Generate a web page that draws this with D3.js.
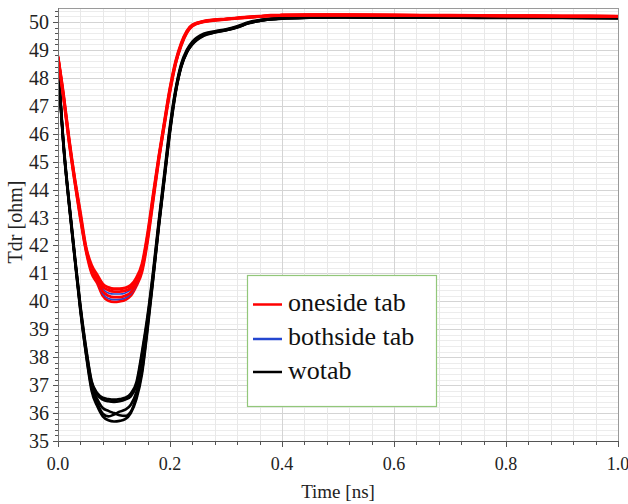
<!DOCTYPE html>
<html><head><meta charset="utf-8">
<script src="https://cdn.jsdelivr.net/npm/d3@7"></script>
<style>body{margin:0;background:#fff}svg{display:block}</style>
</head><body><svg id="c" width="628" height="504"></svg>
<script>
const timeNs = [0,0.01,0.02,0.03,0.04,0.05,0.06,0.07,0.08,0.09,0.10,0.11,0.12,0.13,0.14,0.15,0.16,0.17,0.18,0.19,0.20,0.21,0.22,0.23,0.24,0.26,0.28,0.30,0.32,0.34,0.36,0.38,0.40,0.45,0.50,0.60,0.70,0.80,0.90,1.00];

const onesideTab1 = [48.78,47.4,45.8,44.4,43.2,41.95,41.3,40.95,40.62,40.5,40.45,40.45,40.48,40.58,40.85,41.35,42.45,43.85,45.2,46.45,47.65,48.6,49.25,49.68,49.9,50.03,50.08,50.11,50.15,50.18,50.21,50.24,50.25,50.26,50.26,50.25,50.24,50.23,50.22,50.21];
const onesideTab2 = [48.75,47.35,45.75,44.35,43.1,41.9,41.2,40.85,40.52,40.4,40.35,40.35,40.38,40.48,40.75,41.25,42.35,43.75,45.15,46.4,47.6,48.55,49.2,49.65,49.88,50.02,50.07,50.1,50.14,50.17,50.2,50.23,50.24,50.25,50.25,50.24,50.23,50.22,50.21,50.2];
const onesideTab3 = [48.75,47.3,45.7,44.3,43.0,41.85,41.1,40.75,40.35,40.2,40.15,40.15,40.2,40.32,40.65,41.15,42.25,43.7,45.1,46.35,47.55,48.52,49.18,49.63,49.87,50.01,50.07,50.1,50.14,50.17,50.2,50.23,50.24,50.25,50.25,50.24,50.23,50.22,50.21,50.2];
const onesideTab4 = [48.72,47.25,45.65,44.25,42.95,41.8,41.0,40.65,40.2,40.02,39.98,40.0,40.05,40.2,40.55,41.05,42.15,43.6,45.05,46.3,47.5,48.5,49.15,49.6,49.85,50.0,50.06,50.09,50.13,50.16,50.19,50.22,50.23,50.24,50.24,50.23,50.22,50.21,50.2,50.19];

const bothsideTab1 = [48.75,47.35,45.75,44.35,43.1,41.9,41.2,40.82,40.44,40.3,40.26,40.26,40.3,40.42,40.72,41.25,42.35,43.75,45.15,46.4,47.6,48.55,49.2,49.65,49.88,50.02,50.07,50.1,50.14,50.17,50.2,50.23,50.24,50.25,50.25,50.24,50.23,50.22,50.21,50.2];
const bothsideTab2 = [48.75,47.3,45.7,44.3,43.0,41.85,41.1,40.72,40.27,40.1,40.06,40.07,40.12,40.26,40.6,41.15,42.25,43.7,45.1,46.35,47.55,48.52,49.18,49.63,49.87,50.01,50.07,50.1,50.14,50.17,50.2,50.23,50.24,50.25,50.25,50.24,50.23,50.22,50.21,50.2];

const wotab1 = [48.6,45.6,43.5,41.6,39.8,38.3,37.1,36.65,36.48,36.42,36.4,36.42,36.48,36.6,37.0,38.1,39.4,41.0,42.8,44.5,46.2,47.55,48.45,48.95,49.25,49.55,49.65,49.72,49.83,49.97,50.06,50.11,50.14,50.17,50.18,50.17,50.17,50.16,50.16,50.15];
const wotab2 = [48.6,45.65,43.55,41.65,39.85,38.35,37.15,36.72,36.55,36.5,36.48,36.5,36.55,36.7,37.1,38.2,39.5,41.1,42.9,44.6,46.3,47.6,48.5,49.0,49.3,49.58,49.67,49.74,49.85,49.99,50.07,50.12,50.15,50.18,50.19,50.18,50.18,50.17,50.17,50.16];
const wotab3 = [48.58,45.55,43.45,41.55,39.7,38.15,36.9,36.35,35.98,35.88,35.95,36.05,36.12,36.3,36.75,37.7,39.2,40.9,42.75,44.45,46.15,47.5,48.42,48.93,49.23,49.53,49.64,49.71,49.82,49.96,50.05,50.1,50.13,50.16,50.17,50.16,50.16,50.15,50.15,50.14];
const wotab4 = [48.58,45.55,43.45,41.55,39.75,38.2,37.0,36.5,36.18,36.08,36.0,35.92,35.9,36.05,36.6,37.5,39.1,40.85,42.7,44.4,46.1,47.48,48.4,48.92,49.22,49.52,49.63,49.7,49.81,49.95,50.04,50.1,50.13,50.16,50.17,50.16,50.16,50.15,50.15,50.14];
const wotab5 = [48.55,45.5,43.4,41.5,39.65,38.1,36.8,36.25,35.88,35.74,35.7,35.72,35.78,36.0,36.5,37.4,39.0,40.8,42.65,44.35,46.05,47.45,48.38,48.9,49.2,49.5,49.62,49.7,49.8,49.95,50.04,50.09,50.12,50.15,50.16,50.15,50.15,50.14,50.14,50.13];

const xTicks = [0, 0.2, 0.4, 0.6, 0.8, 1.0];
const yTicks = [35,36,37,38,39,40,41,42,43,44,45,46,47,48,49,50];
const legendLabels = ["oneside tab", "bothside tab", "wotab"];
const seriesColors = ["#ff0000", "#2447d0", "#000000"];

const svg = d3.select("#c");
const L = 58, R = 618, T = 8, B = 441;
const x = d3.scaleLinear().domain([0, 1]).range([L, R]);
const y = d3.scaleLinear().domain([35, 50.5]).range([B, T]);
const font = "'Liberation Serif','Times New Roman',serif";

// grid
const g = svg.append("g");
const xMinor = d3.range(0, 1.0001, 0.04);
const yMinor = d3.range(35, 50.5001, 0.2);
g.selectAll(".hm").data(yMinor).join("line")
  .attr("x1", L).attr("x2", R)
  .attr("y1", d => Math.round(y(d)) + 0.5).attr("y2", d => Math.round(y(d)) + 0.5)
  .attr("stroke", d => Math.abs(d - Math.round(d)) < 1e-6 ? "#d4d4d4" : "#ececec").attr("stroke-width", 1);
g.selectAll(".vm").data(xMinor).join("line")
  .attr("y1", T).attr("y2", B)
  .attr("x1", d => Math.round(x(d)) + 0.5).attr("x2", d => Math.round(x(d)) + 0.5)
  .attr("stroke", d => Math.abs(d * 5 - Math.round(d * 5)) < 1e-6 ? "#d4d4d4" : "#e8e8e8").attr("stroke-width", 1);

// frame
svg.append("rect").attr("x", L + 0.5).attr("y", T + 0.5).attr("width", R - L).attr("height", B - T)
  .attr("fill", "none").attr("stroke", "#9a9a9a").attr("stroke-width", 1);

// curves
svg.append("clipPath").attr("id", "clp").append("rect")
  .attr("x", L).attr("y", T).attr("width", R - L).attr("height", B - T);
const line = d3.line().x((d, i) => x(timeNs[i])).y(d => y(d)).curve(d3.curveMonotoneX);
const plot = svg.append("g").attr("clip-path", "url(#clp)");
[wotab1, wotab2, wotab3, wotab4, wotab5].forEach(s =>
  plot.append("path").attr("d", line(s)).attr("fill", "none").attr("stroke", seriesColors[2]).attr("stroke-width", 2.6));
[onesideTab1, onesideTab4].forEach(s =>
  plot.append("path").attr("d", line(s)).attr("fill", "none").attr("stroke", seriesColors[0]).attr("stroke-width", 2.8));
[bothsideTab1, bothsideTab2].forEach(s =>
  plot.append("path").attr("d", line(s)).attr("fill", "none").attr("stroke", seriesColors[1]).attr("stroke-width", 1.6));
[onesideTab2, onesideTab3].forEach(s =>
  plot.append("path").attr("d", line(s)).attr("fill", "none").attr("stroke", seriesColors[0]).attr("stroke-width", 2.8));

// axes
const xAxis = svg.append("g");
xAxis.append("line").attr("x1", L).attr("x2", R + 0.5).attr("y1", B + 0.5).attr("y2", B + 0.5).attr("stroke", "#555");
xAxis.selectAll(".xt").data(xMinor).join("line")
  .attr("x1", d => Math.round(x(d)) + 0.5).attr("x2", d => Math.round(x(d)) + 0.5)
  .attr("y1", B).attr("y2", d => Math.abs(d * 5 - Math.round(d * 5)) < 1e-6 ? B + 6 : B + 4)
  .attr("stroke", "#555");
xAxis.selectAll(".xl").data(xTicks).join("text")
  .attr("x", d => x(d)).attr("y", 470).attr("text-anchor", "middle")
  .attr("font-family", font).attr("font-size", 18).attr("fill", "#222")
  .text(d => d.toFixed(1));

const yAxis = svg.append("g");
yAxis.append("line").attr("x1", L + 0.5).attr("x2", L + 0.5).attr("y1", T).attr("y2", B + 0.5).attr("stroke", "#777");
yAxis.selectAll(".yt").data(yMinor).join("line")
  .attr("y1", d => Math.round(y(d)) + 0.5).attr("y2", d => Math.round(y(d)) + 0.5)
  .attr("x1", L).attr("x2", d => Math.abs(d - Math.round(d)) < 1e-6 ? L - 5 : L - 3)
  .attr("stroke", "#555");
yAxis.selectAll(".yl").data(yTicks).join("text")
  .attr("x", 49).attr("y", d => y(d) + 7).attr("text-anchor", "end")
  .attr("font-family", font).attr("font-size", 20).attr("fill", "#222")
  .text(d => d);

svg.append("text").attr("x", 338).attr("y", 498).attr("text-anchor", "middle")
  .attr("font-family", font).attr("font-size", 19).attr("fill", "#222").text("Time [ns]");
svg.append("text").attr("transform", "translate(22,222) rotate(-90)").attr("text-anchor", "middle")
  .attr("font-family", font).attr("font-size", 20).attr("fill", "#222").text("Tdr [ohm]");

// legend
const lg = svg.append("g");
lg.append("rect").attr("x", 247.5).attr("y", 275.5).attr("width", 189).attr("height", 131)
  .attr("fill", "#fff").attr("stroke", "#92c77a").attr("stroke-width", 1.2);
const rows = [304.5, 339, 372];
const bases = [311, 345, 379];
legendLabels.forEach((lab, i) => {
  lg.append("line").attr("x1", 253).attr("x2", 282).attr("y1", rows[i]).attr("y2", rows[i])
    .attr("stroke", seriesColors[i]).attr("stroke-width", 2.5);
  lg.append("text").attr("x", 288).attr("y", bases[i]).attr("font-family", font)
    .attr("font-size", 26).attr("fill", "#111").text(lab);
});
</script></body></html>
